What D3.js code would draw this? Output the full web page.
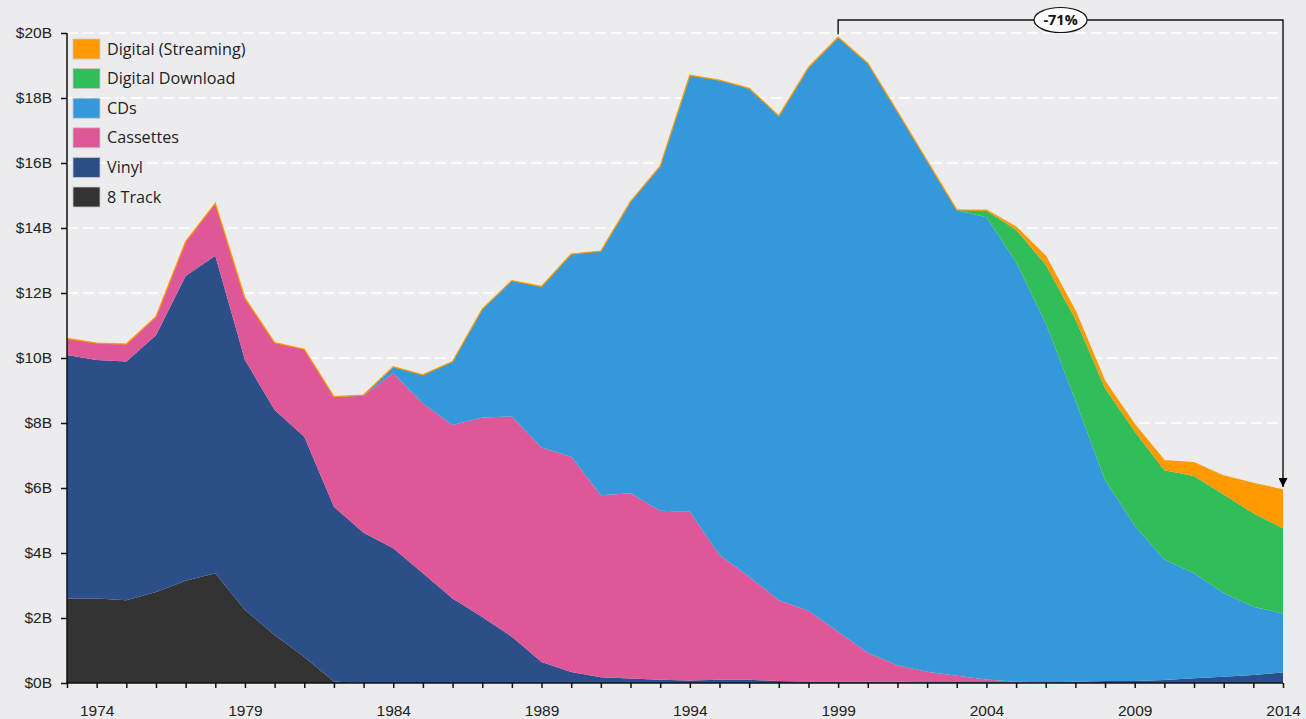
<!DOCTYPE html>
<html>
<head>
<meta charset="utf-8">
<script src="https://cdnjs.cloudflare.com/ajax/libs/d3/7.8.5/d3.min.js"></script>
<style>
  html, body { margin: 0; padding: 0; background: #ececef; }
  svg { display: block; font-family: "Open Sans", Lato, sans-serif; }
  .axis text { font-size: 15.5px; fill: #222; }
  .axis path, .axis line { stroke: #111; stroke-width: 1.5; }
  .grid line { stroke: #fff; stroke-width: 1.6; stroke-dasharray: 11,5; }
  .legend text { font-size: 16.2px; fill: #222; }
</style>
</head>
<body>
<svg id="music-sales"></svg>
<script>
// sales by format, $ billions
var years = d3.range(1973, 2015);
var eightTrack = [2.6, 2.6, 2.55, 2.8, 3.15, 3.38, 2.25, 1.48, 0.8, 0.05,
  0, 0, 0, 0, 0, 0, 0, 0, 0, 0, 0, 0, 0, 0, 0, 0, 0, 0, 0, 0, 0, 0, 0, 0, 0, 0, 0, 0, 0, 0, 0, 0];
var vinyl = [7.49, 7.34, 7.34, 7.9, 9.37, 9.77, 7.69, 6.92, 6.78, 5.37,
  4.62, 4.15, 3.38, 2.6, 2.03, 1.42, 0.65, 0.34, 0.18, 0.14,
  0.1, 0.08, 0.1, 0.1, 0.06, 0.05, 0.05, 0.04, 0.04, 0.03,
  0.03, 0.03, 0.02, 0.02, 0.04, 0.06, 0.06, 0.09, 0.15, 0.19, 0.25, 0.32];
var cassettes = [0.51, 0.52, 0.54, 0.57, 1.06, 1.61, 1.9, 2.07, 2.69, 3.39,
  4.22, 5.38, 5.22, 5.34, 6.14, 6.78, 6.6, 6.62, 5.6, 5.7,
  5.2, 5.19, 3.84, 3.17, 2.49, 2.17, 1.53, 0.89, 0.51, 0.32,
  0.19, 0.08, 0.02, 0, 0, 0, 0, 0, 0, 0, 0, 0];
var cds = [0, 0, 0, 0, 0, 0, 0, 0, 0, 0,
  0.02, 0.2, 0.88, 1.95, 3.33, 4.18, 4.95, 6.24, 7.51, 8.97,
  10.6, 13.43, 14.61, 15.03, 14.9, 16.72, 18.29, 18.14, 17.03, 15.72,
  14.33, 14.22, 12.91, 11.05, 8.66, 6.19, 4.78, 3.71, 3.23, 2.58, 2.1, 1.82];
var downloads = [0, 0, 0, 0, 0, 0, 0, 0, 0, 0,
  0, 0, 0, 0, 0, 0, 0, 0, 0, 0,
  0, 0, 0, 0, 0, 0, 0, 0, 0, 0,
  0.01, 0.2, 1.0, 1.8, 2.5, 2.82, 2.9, 2.75, 2.99, 3.03, 2.87, 2.62];
var streaming = [0, 0, 0, 0, 0, 0, 0, 0, 0, 0,
  0, 0, 0, 0, 0, 0, 0, 0, 0, 0,
  0, 0, 0, 0, 0, 0, 0, 0, 0, 0,
  0, 0.02, 0.08, 0.26, 0.24, 0.2, 0.21, 0.29, 0.41, 0.57, 0.92, 1.18];

var formats = ['8 Track', 'Vinyl', 'Cassettes', 'CDs', 'Digital Download', 'Digital (Streaming)'];
var formatColors = ['#333333', '#2c4f8a', '#de5796', '#3598da', '#31bd5a', '#ff9a00'];
var yTicks = d3.range(0, 21, 2);
var changeLabel = '-71%';

(function () {

  var width = 1306, height = 719;
  var margin = { top: 33, right: 23, bottom: 36, left: 67 };

  var series = [eightTrack, vinyl, cassettes, cds, downloads, streaming];
  var rows = years.map(function (yr, i) {
    var row = { year: yr };
    formats.forEach(function (f, j) { row[f] = series[j][i]; });
    return row;
  });

  var x = d3.scaleLinear()
    .domain([1973, 2014])
    .range([margin.left, width - margin.right]);
  var y = d3.scaleLinear()
    .domain([0, 20])
    .range([height - margin.bottom, margin.top]);
  var color = d3.scaleOrdinal().domain(formats).range(formatColors);

  var svg = d3.select('#music-sales')
    .attr('width', width)
    .attr('height', height);

  // dashed gridlines
  svg.append('g')
    .attr('class', 'grid')
    .selectAll('line')
    .data(yTicks.filter(function (d) { return d > 0; }))
    .enter()
    .append('line')
    .attr('x1', x(1973))
    .attr('x2', x(2014))
    .attr('y1', function (d) { return y(d); })
    .attr('y2', function (d) { return y(d); });

  var stacked = d3.stack().keys(formats)(rows);

  var area = d3.area()
    .x(function (d) { return x(d.data.year); })
    .y0(function (d) { return y(d[0]); })
    .y1(function (d) { return y(d[1]); });

  svg.append('g')
    .selectAll('path')
    .data(stacked)
    .enter()
    .append('path')
    .attr('d', area)
    .attr('fill', function (d) { return color(d.key); });

  // thin orange edge along the top of the stack
  var topLine = d3.line()
    .x(function (d) { return x(d.data.year); })
    .y(function (d) { return y(d[1]); });
  svg.append('path')
    .attr('d', topLine(stacked[stacked.length - 1]))
    .attr('fill', 'none')
    .attr('stroke', color('Digital (Streaming)'))
    .attr('stroke-width', 1.3);

  // axes
  svg.append('g')
    .attr('class', 'axis')
    .attr('transform', 'translate(' + x(1973) + ',0)')
    .call(d3.axisLeft(y)
      .tickValues(yTicks)
      .tickSize(6)
      .tickPadding(9)
      .tickFormat(function (d) { return '$' + d + 'B'; }))
    .call(function (g) { g.select('.domain').attr('d', 'M0,' + y(20) + 'V' + y(0)); });

  svg.append('g')
    .attr('class', 'axis')
    .attr('transform', 'translate(0,' + y(0) + ')')
    .call(d3.axisBottom(x)
      .tickValues(years)
      .tickSize(5)
      .tickPadding(17)
      .tickFormat(function (d) { return (d - 1974) % 5 === 0 ? d : ''; }))
    .call(function (g) { g.select('.domain').attr('d', 'M' + x(1973) + ',0H' + x(2014)); });

  // legend, top series first
  var legend = svg.append('g')
    .attr('class', 'legend')
    .attr('transform', 'translate(73,39)');
  var item = legend.selectAll('g')
    .data(formats.slice().reverse())
    .enter()
    .append('g')
    .attr('transform', function (d, i) { return 'translate(0,' + (i * 29.6) + ')'; });
  item.append('rect')
    .attr('width', 27)
    .attr('height', 20)
    .attr('fill', function (d) { return color(d); })
    .attr('stroke', '#c8c8c8')
    .attr('stroke-width', 0.8);
  item.append('text')
    .attr('x', 34)
    .attr('y', 10)
    .attr('dy', '0.35em')
    .text(function (d) { return d; });

  // peak-to-2014 change bracket
  var peakYear = 1999, lastYear = 2014;
  var peakTotal = d3.sum(series, function (s) { return s[years.indexOf(peakYear)]; });
  var lastTotal = d3.sum(series, function (s) { return s[years.indexOf(lastYear)]; });
  var bracketY = 20;

  svg.append('defs').append('marker')
    .attr('id', 'arrow')
    .attr('viewBox', '0 0 10 10')
    .attr('refX', 10)
    .attr('refY', 5)
    .attr('markerWidth', 9)
    .attr('markerHeight', 9)
    .attr('markerUnits', 'userSpaceOnUse')
    .attr('orient', 'auto')
    .append('path')
    .attr('d', 'M0,0L10,5L0,10Z')
    .attr('fill', '#000');

  svg.append('path')
    .attr('d', 'M' + x(peakYear) + ',' + (y(peakTotal) - 3) + 'V' + bracketY +
      'H' + x(lastYear) + 'V' + (y(lastTotal) - 3))
    .attr('fill', 'none')
    .attr('stroke', '#111')
    .attr('stroke-width', 1.4)
    .attr('marker-end', 'url(#arrow)');

  var labelX = (x(peakYear) + x(lastYear)) / 2;
  svg.append('ellipse')
    .attr('cx', labelX)
    .attr('cy', bracketY)
    .attr('rx', 26.5)
    .attr('ry', 12.5)
    .attr('fill', '#fff')
    .attr('stroke', '#111')
    .attr('stroke-width', 1.2);
  svg.append('text')
    .attr('x', labelX)
    .attr('y', bracketY)
    .attr('dy', '0.36em')
    .attr('text-anchor', 'middle')
    .style('font-size', '14.5px')
    .style('font-weight', 'bold')
    .attr('fill', '#111')
    .text(changeLabel);

})();
</script>
</body>
</html>
